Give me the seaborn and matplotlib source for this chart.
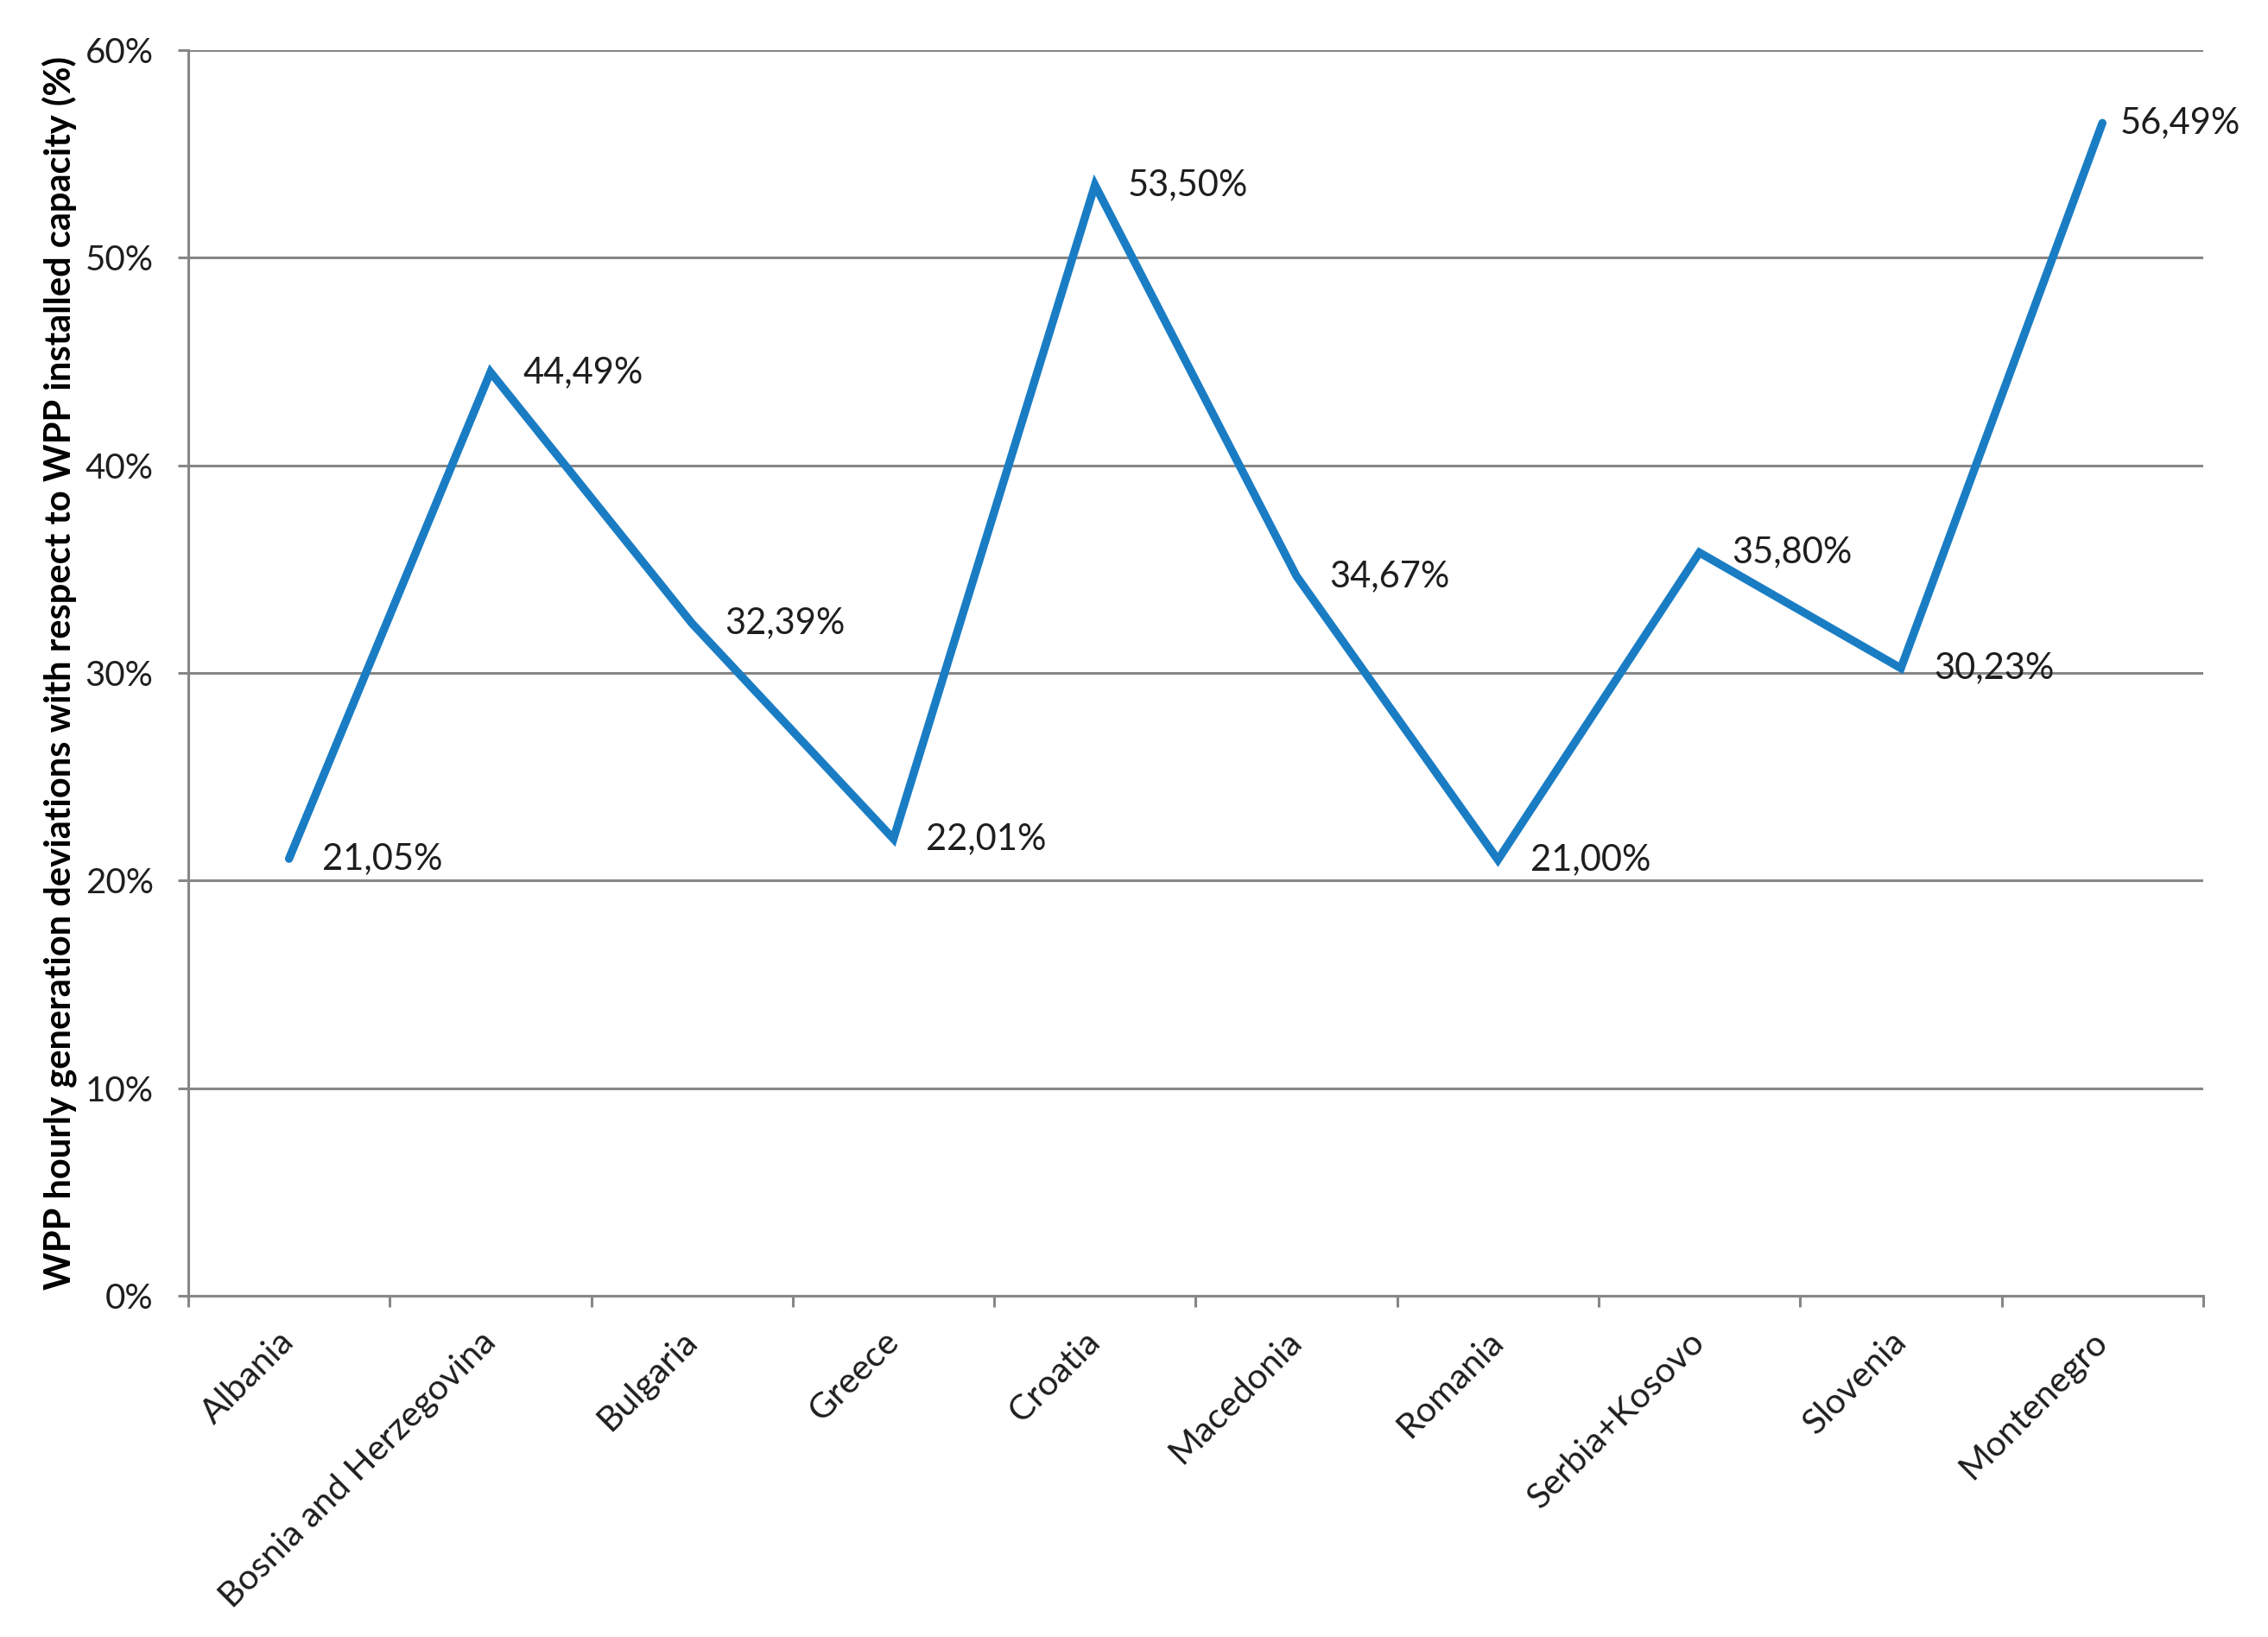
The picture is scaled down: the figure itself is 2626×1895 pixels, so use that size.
import pandas as pd
import matplotlib.pyplot as plt
import seaborn as sns
from matplotlib.ticker import PercentFormatter, FixedLocator

# Data
countries = ['Albania', 'Bosnia and Herzegovina', 'Bulgaria', 'Greece', 'Croatia',
             'Macedonia', 'Romania', 'Serbia+Kosovo', 'Slovenia', 'Montenegro']
deviation = [21.05, 44.49, 32.39, 22.01, 53.50, 34.67, 21.00, 35.80, 30.23, 56.49]
labels = ['21,05%', '44,49%', '32,39%', '22,01%', '53,50%',
          '34,67%', '21,00%', '35,80%', '30,23%', '56,49%']
y_ticks = [0, 10, 20, 30, 40, 50, 60]

df = pd.DataFrame({'Country': countries, 'Deviation': deviation})

sns.set_style('white')
plt.rcParams['font.family'] = ['Lato', 'DejaVu Sans']

grid_col = '#878787'
line_col = '#1a7dc4'
text_col = '#1e1e1e'

fig = plt.figure(figsize=(26.26, 18.95), dpi=100)
ax = fig.add_axes([0.083, 0.2084, 0.9714 - 0.083, 0.9694 - 0.2084])

sns.lineplot(data=df, x='Country', y='Deviation', ax=ax, color=line_col,
             linewidth=6.8, sort=False, solid_joinstyle='miter', solid_capstyle='round')

# Data labels to the right of each point (last one nudged in, like Excel does at the edge)
for i, (v, lab) in enumerate(zip(deviation, labels)):
    dx = 38 if i < len(labels) - 1 else 20
    ax.annotate(lab, (i, v), xytext=(dx, 0), textcoords='offset pixels',
                ha='left', va='center', fontsize=30, color=text_col)

# Axes styling (Excel-like)
ax.set_xlim(-0.5, len(countries) - 0.5)
ax.set_ylim(0, 60)
ax.yaxis.set_major_locator(FixedLocator(y_ticks))
ax.yaxis.set_major_formatter(PercentFormatter(xmax=100, decimals=0))
ax.grid(axis='y', color=grid_col, linewidth=2.2)
ax.set_axisbelow(True)

for side in ['top', 'right']:
    ax.spines[side].set_visible(False)
for side in ['left', 'bottom']:
    ax.spines[side].set_color(grid_col)
    ax.spines[side].set_linewidth(2.2)

# category labels at centres, tick marks at the boundaries
ax.set_xticks(range(len(countries)))
ax.set_xticklabels(countries, rotation=45, ha='right', va='center',
                   rotation_mode='anchor', fontsize=29.5, color=text_col)
ax.set_xticks([i - 0.5 for i in range(len(countries) + 1)], minor=True)
ax.tick_params(axis='x', which='major', length=0, pad=34)
ax.tick_params(axis='x', which='minor', length=9, width=2.2, color=grid_col,
               direction='out', bottom=True)
ax.tick_params(axis='y', which='major', length=9, width=2.2, color=grid_col,
               direction='out', left=True, labelsize=29, labelcolor=text_col, pad=20)

ax.set_xlabel('')
ax.set_ylabel('WPP hourly generation deviations with respect to WPP installed capacity (%)',
              fontsize=30, fontweight='bold', color='black', labelpad=7)

fig.savefig('out.png', dpi=100, facecolor='white')
